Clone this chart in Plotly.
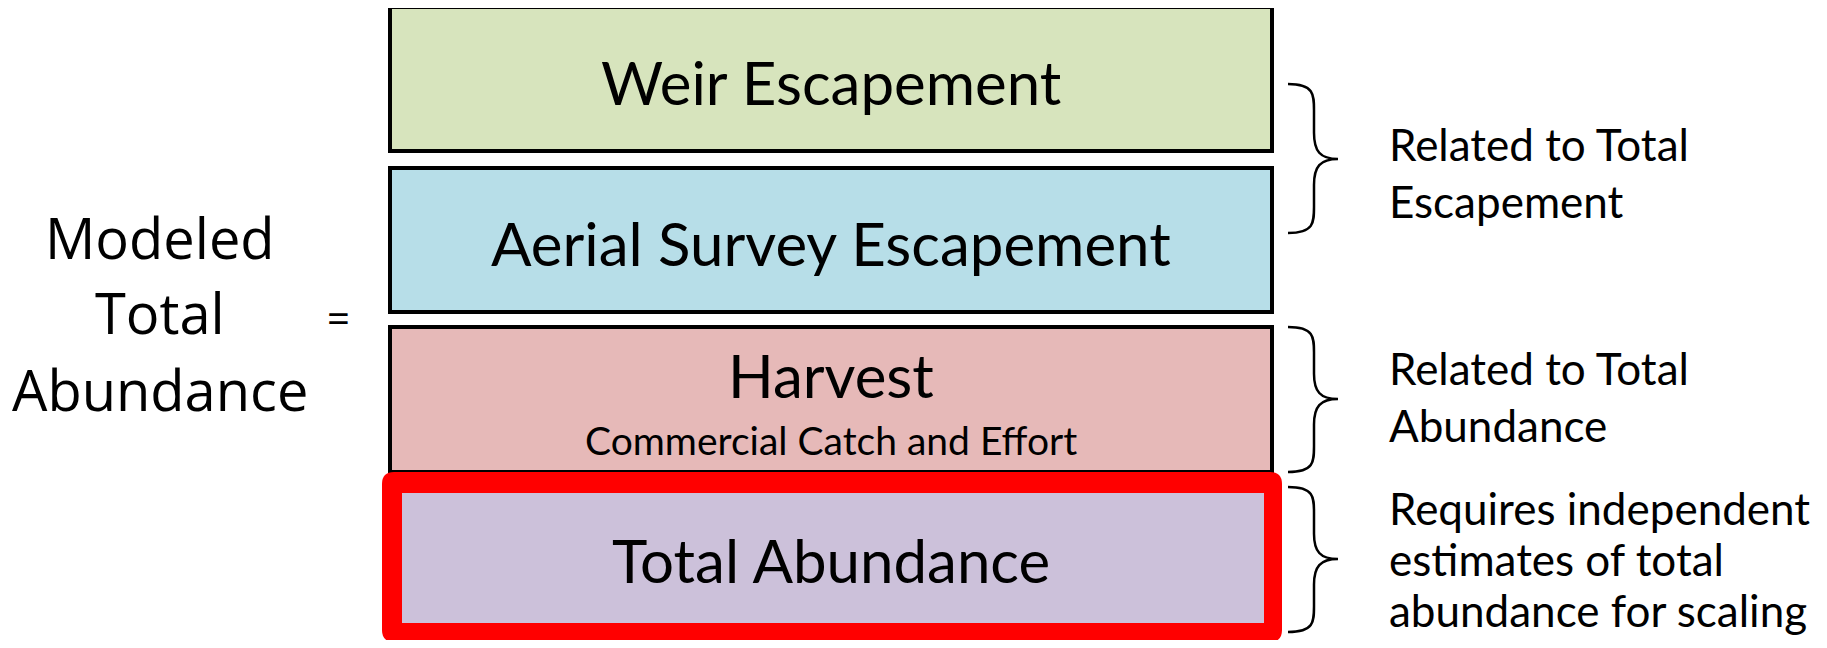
import plotly.graph_objects as go

# boxes (top to bottom)
box_labels = ["Weir Escapement", "Aerial Survey Escapement", "Harvest", "Total Abundance"]
box_sublabels = ["", "", "Commercial Catch and Effort", ""]
box_top = [7, 168, 327, 472]
box_bottom = [151, 312, 472, 642]
box_fill = ["#D7E4BD", "#B7DEE8", "#E6B9B8", "#CCC1DA"]
highlight = [False, False, False, True]

# braces and notes on the right
brace_top = [84, 327, 487]
brace_bottom = [233, 472, 632]
brace_tip = [159, 399, 559]
notes = [["Related to Total", "Escapement"],
         ["Related to Total", "Abundance"],
         ["Requires independent", "estimates of total", "abundance for scaling"]]
note_first_y = [144, 368, 508]
note_step = [57, 57, 51]

left_lines = ["Modeled", "Total", "Abundance"]
left_y = [237, 312, 389]

W, H = 1827, 648
PAD = 8  # page body margin, so data coords == window pixels
BOX_X0, BOX_X1 = 390, 1272
FONT = "Lato"

fig = go.Figure()
fig.add_trace(go.Scatter(x=[PAD, W - PAD], y=[PAD, H - PAD], mode="markers",
                         marker=dict(opacity=0), hoverinfo="skip", showlegend=False))

shapes = []
annos = []


def rounded_rect(x0, y0, x1, y1, r):
    return (f"M {x0+r},{y0} L {x1-r},{y0} Q {x1},{y0} {x1},{y0+r} "
            f"L {x1},{y1-r} Q {x1},{y1} {x1-r},{y1} L {x0+r},{y1} "
            f"Q {x0},{y1} {x0},{y1-r} L {x0},{y0+r} Q {x0},{y0} {x0+r},{y0} Z")


for i, lab in enumerate(box_labels):
    t, b = box_top[i], box_bottom[i]
    if highlight[i]:
        shapes.append(dict(type="path", xref="x", yref="y",
                           path=rounded_rect(BOX_X0 - 8, t, BOX_X1 + 10, b, 12),
                           fillcolor="#FF0000", line=dict(width=0), layer="above"))
        shapes.append(dict(type="rect", xref="x", yref="y",
                           x0=BOX_X0 + 12, x1=BOX_X1 - 8, y0=t + 21, y1=b - 19,
                           fillcolor=box_fill[i], line=dict(width=0), layer="above"))
    else:
        shapes.append(dict(type="rect", xref="x", yref="y",
                           x0=BOX_X0, x1=BOX_X1, y0=t, y1=b,
                           fillcolor=box_fill[i], line=dict(color="black", width=4),
                           layer="above"))
    cx = (BOX_X0 + BOX_X1) / 2
    mid = (t + b) / 2
    if box_sublabels[i]:
        annos.append(dict(x=cx, y=mid - 25, text=lab, showarrow=False,
                          font=dict(family=FONT, size=60, color="black")))
        annos.append(dict(x=cx, y=mid + 40, text=box_sublabels[i], showarrow=False,
                          font=dict(family=FONT, size=39, color="black")))
    else:
        annos.append(dict(x=cx, y=mid + 3, text=lab, showarrow=False,
                          font=dict(family=FONT, size=60, color="black")))

# curly braces
BX0, BXM, BX1 = 1288, 1314, 1338
for t, b, m in zip(brace_top, brace_bottom, brace_tip):
    r1 = (m - t) * 0.35
    r2 = (b - m) * 0.35
    path = (f"M {BX0},{t} C {BXM},{t} {BXM},{t + r1*0.4} {BXM},{t + r1} "
            f"L {BXM},{m - r1} C {BXM},{m - r1*0.3} {BXM + 6},{m} {BX1},{m} "
            f"C {BXM + 6},{m} {BXM},{m + r2*0.3} {BXM},{m + r2} "
            f"L {BXM},{b - r2} C {BXM},{b - r2*0.4} {BXM},{b} {BX0},{b}")
    shapes.append(dict(type="path", xref="x", yref="y", path=path,
                       line=dict(color="black", width=2.5)))

for lines, y0, step in zip(notes, note_first_y, note_step):
    for k, txt in enumerate(lines):
        annos.append(dict(x=1387, y=y0 + k * step, text=txt, showarrow=False,
                          xanchor="left", align="left",
                          font=dict(family=FONT, size=44, color="black")))

for txt, y in zip(left_lines, left_y):
    annos.append(dict(x=160, y=y, text=txt, showarrow=False,
                      font=dict(family="Open Sans", size=56, color="black")))
annos.append(dict(x=338, y=317, text="=", showarrow=False,
                  font=dict(family="Open Sans", size=40, color="black")))

fig.update_layout(
    width=W - 2 * PAD, height=H - 2 * PAD,
    margin=dict(l=0, r=0, t=0, b=0),
    paper_bgcolor="white", plot_bgcolor="white",
    xaxis=dict(range=[PAD, W - PAD], visible=False, fixedrange=True),
    yaxis=dict(range=[H - PAD, PAD], visible=False, fixedrange=True),
    shapes=shapes, annotations=annos, showlegend=False,
)

fig.write_html("out.html", config={"displayModeBar": False})
